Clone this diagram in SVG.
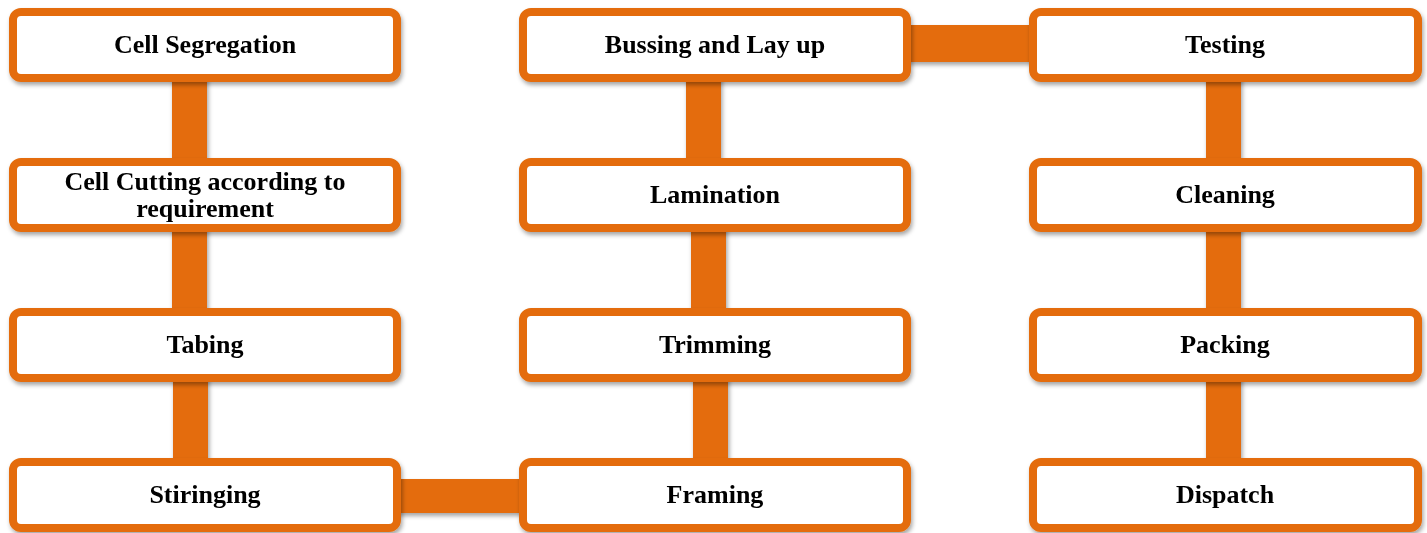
<svg xmlns="http://www.w3.org/2000/svg" width="1427" height="533" viewBox="0 0 1427 533">
<defs>
<filter id="sh" x="-10%" y="-20%" width="120%" height="150%">
<feDropShadow dx="1.5" dy="3" stdDeviation="2" flood-color="#000" flood-opacity="0.35"/>
</filter>
<style>
.box{fill:#fff;stroke:#E46C0A;stroke-width:8}
.con{fill:#E46C0A}
text{font-family:"Liberation Serif","Times New Roman",serif;font-weight:bold;font-size:26px;fill:#000;text-anchor:middle}
</style>
</defs>
<rect width="1427" height="533" fill="#fff"/>
<g id="connectors" filter="url(#sh)">
<rect class="con" x="172" y="70" width="35" height="100"/>
<rect class="con" x="172" y="220" width="35" height="100"/>
<rect class="con" x="173" y="370" width="35" height="100"/>
<rect class="con" x="390" y="479" width="140" height="34"/>
<rect class="con" x="693" y="370" width="35" height="100"/>
<rect class="con" x="691" y="220" width="35" height="100"/>
<rect class="con" x="686" y="70" width="35" height="100"/>
<rect class="con" x="900" y="25" width="140" height="37"/>
<rect class="con" x="1206" y="70" width="35" height="100"/>
<rect class="con" x="1206" y="220" width="35" height="100"/>
<rect class="con" x="1206" y="370" width="35" height="100"/>
</g>
<g id="n1" filter="url(#sh)"><rect class="box" x="13" y="12" width="384" height="66" rx="8"/><text x="205" y="53">Cell Segregation</text></g>
<g id="n2" filter="url(#sh)"><rect class="box" x="13" y="162" width="384" height="66" rx="8"/><text x="205" y="190">Cell Cutting according to</text><text x="205" y="217">requirement</text></g>
<g id="n3" filter="url(#sh)"><rect class="box" x="13" y="312" width="384" height="66" rx="8"/><text x="205" y="353">Tabing</text></g>
<g id="n4" filter="url(#sh)"><rect class="box" x="13" y="462" width="384" height="66" rx="8"/><text x="205" y="503">Stiringing</text></g>
<g id="n5" filter="url(#sh)"><rect class="box" x="523" y="462" width="384" height="66" rx="8"/><text x="715" y="503">Framing</text></g>
<g id="n6" filter="url(#sh)"><rect class="box" x="523" y="312" width="384" height="66" rx="8"/><text x="715" y="353">Trimming</text></g>
<g id="n7" filter="url(#sh)"><rect class="box" x="523" y="162" width="384" height="66" rx="8"/><text x="715" y="203">Lamination</text></g>
<g id="n8" filter="url(#sh)"><rect class="box" x="523" y="12" width="384" height="66" rx="8"/><text x="715" y="53">Bussing and Lay up</text></g>
<g id="n9" filter="url(#sh)"><rect class="box" x="1033" y="12" width="385" height="66" rx="8"/><text x="1225" y="53">Testing</text></g>
<g id="n10" filter="url(#sh)"><rect class="box" x="1033" y="162" width="385" height="66" rx="8"/><text x="1225" y="203">Cleaning</text></g>
<g id="n11" filter="url(#sh)"><rect class="box" x="1033" y="312" width="385" height="66" rx="8"/><text x="1225" y="353">Packing</text></g>
<g id="n12" filter="url(#sh)"><rect class="box" x="1033" y="462" width="385" height="66" rx="8"/><text x="1225" y="503">Dispatch</text></g>
</svg>
